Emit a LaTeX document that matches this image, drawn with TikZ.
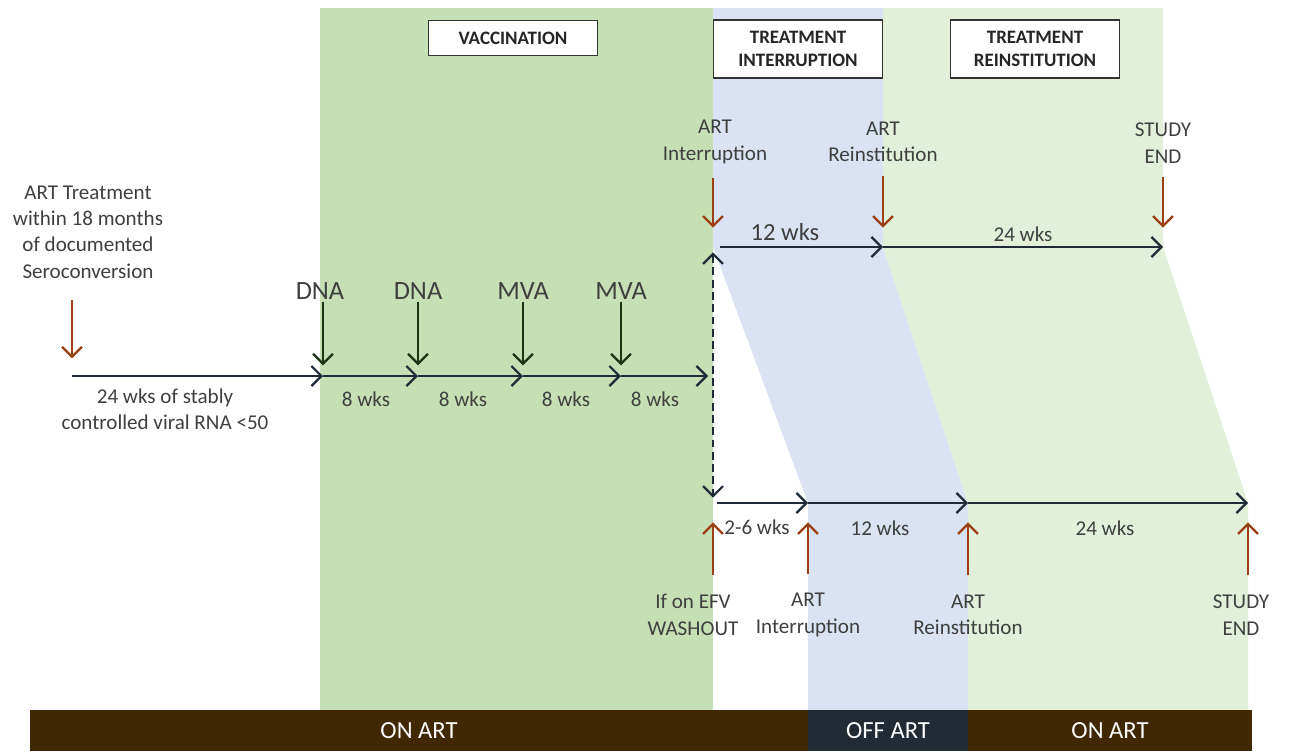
\documentclass[tikz,border=0pt]{standalone}
\usepackage{fontspec}
\setmainfont{Carlito}
\usetikzlibrary{arrows.meta,positioning}
\definecolor{vacgreen}{HTML}{C5E0B4}
\definecolor{offblue}{HTML}{DAE3F3}
\definecolor{ongreen}{HTML}{E2F0D9}
\definecolor{artbrown}{HTML}{402803}
\definecolor{offnavy}{HTML}{222A35}
\definecolor{artred}{HTML}{9C3F14}
\definecolor{vacdark}{HTML}{1E3216}
\definecolor{lineblue}{HTML}{1F2B38}
\definecolor{textgray}{HTML}{3F3F3F}

\begin{document}
\begin{tikzpicture}[x=0.02cm,y=-0.02cm,
    >={Straight Barb[length=2mm,width=4mm]},
    lbl/.style={text=textgray,font=\fontsize{12}{15}\selectfont,align=center,inner sep=0pt},
    big/.style={text=textgray,font=\fontsize{15}{18}\selectfont,inner sep=0pt},
    phase/.style={draw=black!80,fill=white,line width=0.8pt,align=center,text=black!85,
      font=\bfseries\fontsize{10.8}{13.5}\selectfont,minimum width=3.38cm},
    barseg/.style={text=white,font=\fontsize{14}{16}\selectfont,minimum height=0.82cm,inner sep=0pt},
    tl/.style={->,line width=1.3pt,lineblue},
    artarr/.style={->,line width=1.3pt,artred},
    vacarr/.style={->,line width=1.3pt,vacdark}]
  \useasboundingbox (0,0) rectangle (1298,751);
  % background bands
  \fill[vacgreen] (320,8) rectangle (713,710);
  \fill[offblue] (713,8) -- (883,8) -- (883,247) -- (968,503) -- (968,710)
    -- (808,710) -- (808,503) -- (713,247) -- cycle;
  \fill[ongreen] (883,8) -- (1163,8) -- (1163,247) -- (1248,503) -- (1248,710)
    -- (968,710) -- (968,503) -- (883,247) -- cycle;
  % phase boxes
  \node[phase,minimum height=0.7cm] (vacc) at (513,38) {VACCINATION};
  \node[phase,minimum height=1.16cm] (tint) at (798,49) {TREATMENT\\INTERRUPTION};
  \node[phase,minimum height=1.16cm] (trein) at (1035,49) {TREATMENT\\REINSTITUTION};
  % vaccination timeline
  \coordinate (p0) at (72,376);
  \coordinate (p1) at (323,376);
  \coordinate (p2) at (418,376);
  \coordinate (p3) at (523,376);
  \coordinate (p4) at (621,376);
  \coordinate (p5) at (708,376);
  \foreach \a/\b in {p0/p1,p1/p2,p2/p3,p3/p4,p4/p5}{\draw[tl] (\a) -- (\b);}
  \node[lbl] (start) at (88,232) {ART Treatment\\within 18 months\\of documented\\Seroconversion};
  \coordinate (a0) at (72,300);
  \draw[artarr,shorten >=10] (a0) -- (p0);
  \node[lbl] (stable) at (165,409) {24 wks of stably\\controlled viral RNA <50};
  \node[big] (dna1) at (320,291) {DNA};
  \node[big] (dna2) at (418,291) {DNA};
  \node[big] (mva1) at (523,291) {MVA};
  \node[big] (mva2) at (621,291) {MVA};
  \foreach \n/\p in {dna1/p1,dna2/p2,mva1/p3,mva2/p4}{
    \draw[vacarr,shorten <=1pt,shorten >=6] (\n.south -| \p) -- (\p);}
  \node[lbl] (w1) at (366,399) {8 wks};
  \node[lbl] (w2) at (463,399) {8 wks};
  \node[lbl] (w3) at (566,399) {8 wks};
  \node[lbl] (w4) at (655,399) {8 wks};
  % upper branch
  \coordinate (u0) at (713,247);
  \coordinate (u1) at (883,247);
  \coordinate (u2) at (1163,247);
  \draw[tl,shorten <=4] (u0) -- (u1);
  \draw[tl] (u1) -- (u2);
  \node[lbl] (uint) at (715,142) {ART\\Interruption};
  \node[lbl] (urein) at (883,142) {ART\\Reinstitution};
  \node[lbl] (uend) at (1163,143) {STUDY\\END};
  \foreach \n/\p in {uint/u0,urein/u1,uend/u2}{
    \draw[artarr,shorten <=8,shorten >=11] (\n.south -| \p) -- (\p);}
  \node[lbl,font=\fontsize{14}{16}\selectfont] (u12) at (785,232) {12 wks};
  \node[lbl] (u24) at (1023,234) {24 wks};
  % lower branch
  \coordinate (l0) at (713,503);
  \coordinate (l1) at (808,503);
  \coordinate (l2) at (968,503);
  \coordinate (l3) at (1248,503);
  \draw[<->,dash pattern=on 4.5pt off 2.5pt,line width=1.3pt,lineblue,shorten <=3,shorten >=3] (u0) -- (l0);
  \draw[tl,shorten <=2] (l0) -- (l1);
  \draw[tl] (l1) -- (l2);
  \draw[tl] (l2) -- (l3);
  \node[lbl] (lwash) at (693,615) {If on EFV\\WASHOUT};
  \node[lbl] (lint) at (808,615) {ART\\Interruption};
  \node[lbl] (lrein) at (968,615) {ART\\Reinstitution};
  \node[lbl] (lend) at (1241,615) {STUDY\\END};
  \foreach \n/\p in {lwash/l0,lint/l1,lrein/l2,lend/l3}{
    \draw[artarr,shorten <=11,shorten >=11] (\n.north -| \p) -- (\p);}
  \node[lbl] (l26) at (757,527) {2-6 wks};
  \node[lbl] (l12) at (880,528) {12 wks};
  \node[lbl] (l24) at (1105,528) {24 wks};
  % ART status bar
  \node[barseg,fill=artbrown,minimum width=15.56cm] (on1) at (419,730.5) {ON ART};
  \node[barseg,fill=offnavy,minimum width=3.2cm] (off) at (888,730.5) {OFF ART};
  \node[barseg,fill=artbrown,minimum width=5.68cm] (on2) at (1110,730.5) {ON ART};
\end{tikzpicture}
\end{document}
